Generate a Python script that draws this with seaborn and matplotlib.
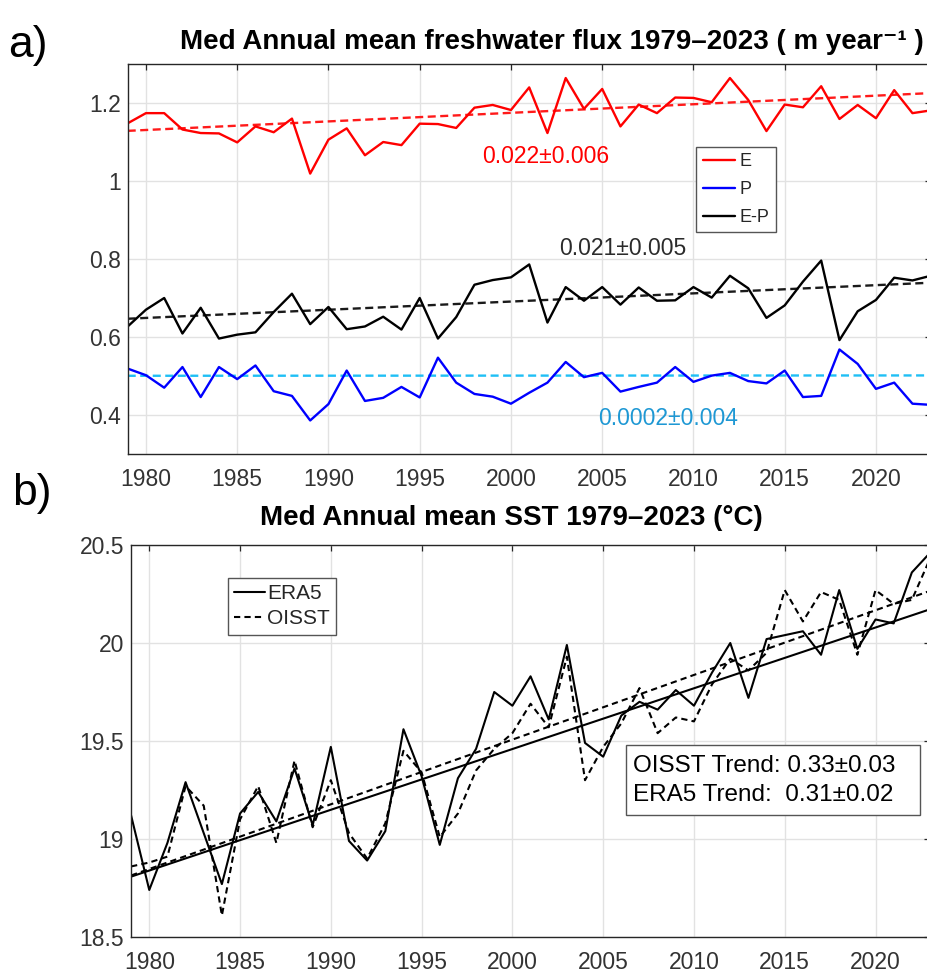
import numpy as np
import pandas as pd
import matplotlib
matplotlib.use("Agg")
import matplotlib.pyplot as plt
from matplotlib.patches import Rectangle
import seaborn as sns

# ---------------------------------------------------------------- data
YEARS = list(range(1979, 2024))

# Mediterranean annual mean freshwater flux (m/year)
E = [1.148, 1.174, 1.174, 1.132, 1.123, 1.122, 1.099, 1.140, 1.125, 1.160,
     1.019, 1.106, 1.135, 1.066, 1.100, 1.092, 1.147, 1.146, 1.136, 1.188,
     1.195, 1.182, 1.240, 1.123, 1.264, 1.185, 1.236, 1.140, 1.196, 1.174,
     1.214, 1.213, 1.202, 1.264, 1.208, 1.128, 1.196, 1.189, 1.243, 1.159,
     1.195, 1.161, 1.233, 1.174, 1.181]
P = [0.519, 0.502, 0.470, 0.523, 0.446, 0.523, 0.492, 0.527, 0.461, 0.449,
     0.386, 0.428, 0.514, 0.436, 0.444, 0.472, 0.445, 0.547, 0.483, 0.454,
     0.447, 0.429, 0.457, 0.483, 0.536, 0.497, 0.508, 0.460, 0.472, 0.483,
     0.523, 0.485, 0.501, 0.508, 0.487, 0.481, 0.514, 0.446, 0.449, 0.568,
     0.531, 0.467, 0.483, 0.429, 0.426]
E_MINUS_P = [0.627, 0.670, 0.700, 0.609, 0.675, 0.596, 0.606, 0.612, 0.664, 0.711,
             0.633, 0.677, 0.620, 0.627, 0.652, 0.619, 0.700, 0.596, 0.651, 0.734,
             0.746, 0.753, 0.786, 0.637, 0.728, 0.693, 0.728, 0.683, 0.727, 0.693,
             0.694, 0.728, 0.701, 0.757, 0.725, 0.649, 0.681, 0.742, 0.796, 0.592,
             0.666, 0.695, 0.752, 0.745, 0.757]

# Mediterranean annual mean SST (deg C)
ERA5 = [19.12, 18.74, 18.98, 19.29, 19.03, 18.77, 19.13, 19.24, 19.09, 19.36,
        19.07, 19.47, 18.99, 18.89, 19.04, 19.56, 19.32, 18.97, 19.31, 19.46,
        19.75, 19.68, 19.83, 19.61, 19.99, 19.49, 19.42, 19.63, 19.70, 19.66,
        19.76, 19.68, 19.85, 20.00, 19.72, 20.02, 20.04, 20.06, 19.94, 20.27,
        19.97, 20.12, 20.10, 20.36, 20.46]
OISST = [18.86, 18.88, 18.91, 19.27, 19.17, 18.61, 19.10, 19.27, 18.98, 19.40,
         19.06, 19.30, 19.03, 18.90, 19.08, 19.45, 19.34, 19.01, 19.13, 19.35,
         19.46, 19.54, 19.69, 19.57, 19.93, 19.30, 19.47, 19.59, 19.77, 19.54,
         19.62, 19.60, 19.79, 19.92, 19.86, 19.95, 20.27, 20.11, 20.26, 20.22,
         19.94, 20.27, 20.20, 20.22, 20.43]

# linear trends per decade: (slope, uncertainty)
TREND_E = (0.022, 0.006)
TREND_P = (0.0002, 0.004)
TREND_EP = (0.021, 0.005)
TREND_OISST = (0.33, 0.03)
TREND_ERA5 = (0.31, 0.02)

# level of each trend line at the centre year
CENTRE_YEAR = 2001
LEVEL_E = 1.177
LEVEL_P = 0.501
LEVEL_EP = 0.693
LEVEL_OISST = 19.54
LEVEL_ERA5 = 19.49

YEAR_TICKS = [1980, 1985, 1990, 1995, 2000, 2005, 2010, 2015, 2020]
FLUX_TICKS = [0.4, 0.6, 0.8, 1.0, 1.2]
FLUX_TICK_LABELS = ["0.4", "0.6", "0.8", "1", "1.2"]
SST_TICKS = [18.5, 19.0, 19.5, 20.0, 20.5]
SST_TICK_LABELS = ["18.5", "19", "19.5", "20", "20.5"]


def trend(level, per_decade):
    yrs = np.asarray(YEARS, dtype=float)
    return level + per_decade / 10.0 * (yrs - CENTRE_YEAR)


def fmt(tr):
    return f"{tr[0]:g}\u00b1{tr[1]:g}"


flux = pd.DataFrame({
    "year": YEARS, "E": E, "P": P, "EP": E_MINUS_P,
    "E_trend": trend(LEVEL_E, TREND_E[0]),
    "P_trend": trend(LEVEL_P, TREND_P[0]),
    "EP_trend": trend(LEVEL_EP, TREND_EP[0]),
})
sst = pd.DataFrame({
    "year": YEARS, "ERA5": ERA5, "OISST": OISST,
    "ERA5_trend": trend(LEVEL_ERA5, TREND_ERA5[0]),
    "OISST_trend": trend(LEVEL_OISST, TREND_OISST[0]),
})

# ---------------------------------------------------------------- style
sns.set_theme(style="white")
plt.rcParams["font.family"] = ["Liberation Sans", "DejaVu Sans"]
AXC = "#262626"
GRIDC = "#e2e2e2"
BOXC = "#555555"

W, H = 927, 972
fig = plt.figure(figsize=(W / 100, H / 100), dpi=100)


def px_axes(left, top, right, bottom):
    return fig.add_axes([left / W, 1 - bottom / H, (right - left) / W, (bottom - top) / H])


def style_axes(ax, yticks, ylabels, ylim):
    ax.set_xlim(1979, 2023)
    ax.set_ylim(*ylim)
    ax.set_xticks(YEAR_TICKS)
    ax.set_xticklabels([str(y) for y in YEAR_TICKS])
    ax.set_yticks(yticks)
    ax.set_yticklabels(ylabels)
    ax.set_xlabel("")
    ax.set_ylabel("")
    ax.grid(True, color=GRIDC, lw=1.0)
    ax.set_axisbelow(True)
    for s in ax.spines.values():
        s.set_visible(True)
        s.set_color(AXC)
        s.set_linewidth(1.0)
    ax.tick_params(axis="both", direction="in", length=4.5, width=0.9,
                   color=AXC, labelcolor="#333333", labelsize=16.5,
                   top=True, right=True)
    ax.tick_params(axis="x", pad=10)
    ax.tick_params(axis="y", pad=5)


DASH = (0, (3.4, 1.9))

# ---------------------------------------------------------------- panel a
ax1 = px_axes(127.7, 64, 930.7, 454)
sns.lineplot(data=flux, x="year", y="E_trend", ax=ax1, color="#ff1a1a", lw=1.7,
             linestyle=DASH, legend=False)
sns.lineplot(data=flux, x="year", y="EP_trend", ax=ax1, color="#1a1a1a", lw=1.7,
             linestyle=DASH, legend=False)
sns.lineplot(data=flux, x="year", y="P_trend", ax=ax1, color="#1fbff5", lw=1.7,
             linestyle=DASH, legend=False)
sns.lineplot(data=flux, x="year", y="E", ax=ax1, color="#ff0000", lw=1.7, legend=False)
h_e = ax1.lines[-1]
sns.lineplot(data=flux, x="year", y="P", ax=ax1, color="#0000ff", lw=1.7, legend=False)
h_p = ax1.lines[-1]
sns.lineplot(data=flux, x="year", y="EP", ax=ax1, color="#000000", lw=1.7, legend=False)
h_ep = ax1.lines[-1]
style_axes(ax1, FLUX_TICKS, FLUX_TICK_LABELS, (0.3, 1.3))

ax1.text(2001.9, 1.064, fmt(TREND_E), color="#ff0000", fontsize=16.5,
         ha="center", va="center")
ax1.text(2006.1, 0.827, fmt(TREND_EP), color="#2b2b2b", fontsize=16.5,
         ha="center", va="center")
ax1.text(2008.6, 0.392, fmt(TREND_P), color="#1e98d4", fontsize=16.5,
         ha="center", va="center")

leg1 = ax1.legend(handles=[h_e, h_p, h_ep], labels=["E", "P", "E-P"],
                  loc="upper left", bbox_to_anchor=(0.708, 0.787),
                  fontsize=13, handlelength=1.8, handletextpad=0.25,
                  labelspacing=0.6, borderpad=0.35, borderaxespad=0,
                  fancybox=False, framealpha=1, edgecolor=BOXC)
leg1.get_frame().set_linewidth(1.0)

# ---------------------------------------------------------------- panel b
ax2 = px_axes(131.1, 545, 930.0, 937)
sns.lineplot(data=sst, x="year", y="ERA5_trend", ax=ax2, color="black", lw=1.5,
             legend=False)
sns.lineplot(data=sst, x="year", y="OISST_trend", ax=ax2, color="black", lw=1.5,
             linestyle=(0, (3.0, 2.0)), legend=False)
sns.lineplot(data=sst, x="year", y="ERA5", ax=ax2, color="black", lw=1.5, legend=False)
h_era = ax2.lines[-1]
sns.lineplot(data=sst, x="year", y="OISST", ax=ax2, color="black", lw=1.5,
             linestyle=(0, (3.0, 2.0)), legend=False)
h_oi = ax2.lines[-1]
style_axes(ax2, SST_TICKS, SST_TICK_LABELS, (18.5, 20.5))

leg2 = ax2.legend(handles=[h_era, h_oi], labels=["ERA5", "OISST"],
                  loc="upper left", bbox_to_anchor=(0.121, 0.916),
                  fontsize=15, handlelength=1.5, handletextpad=0.1,
                  labelspacing=0.3, borderpad=0.3, borderaxespad=0,
                  fancybox=False, framealpha=1, edgecolor=BOXC)
leg2.get_frame().set_linewidth(1.0)

# trend summary box
ax2.add_patch(Rectangle((0.620, 0.311), 0.367, 0.179, transform=ax2.transAxes,
                        facecolor="white", edgecolor=BOXC, linewidth=1.0, zorder=5))
ax2.text(0.628, 0.400,
         f"OISST Trend: {fmt(TREND_OISST)}\nERA5 Trend:  {fmt(TREND_ERA5)}",
         transform=ax2.transAxes, fontsize=17.5, color="black",
         ha="left", va="center", linespacing=1.4, zorder=6)

# ---------------------------------------------------------------- titles
fig.text(551.5 / W, 1 - 42 / H,
         "Med Annual mean freshwater flux 1979\u20132023 ( m year\u207b\u00b9 )",
         fontsize=20, fontweight="bold", ha="center", va="center", color="black")
fig.text(511.5 / W, 1 - 518 / H, "Med Annual mean SST 1979\u20132023 (\u00b0C)",
         fontsize=20, fontweight="bold", ha="center", va="center", color="black")
fig.text(8 / W, 1 - 45 / H, "a)", fontsize=32, ha="left", va="center", color="black")
fig.text(12 / W, 1 - 493 / H, "b)", fontsize=32, ha="left", va="center", color="black")

fig.savefig("out.png", dpi=100)
